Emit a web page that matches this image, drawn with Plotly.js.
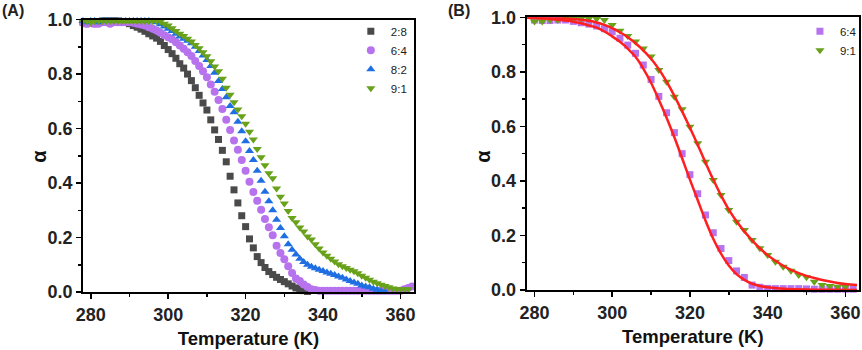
<!DOCTYPE html>
<html>
<head>
<meta charset="utf-8">
<script src="https://cdn.plot.ly/plotly-3.0.1.min.js"></script>
<style>
  body { margin: 0; background: #fff; }
  #plt { width: 862px; height: 350px; }
</style>
</head>
<body>
<div id="plt"></div>
<script>
// Panel (A): conversion alpha vs temperature, 1 K steps
var tA = [278, 279, 280, 281, 282, 283, 284, 285, 286, 287, 288, 289, 290, 291, 292, 293, 294, 295, 296, 297,
    298, 299, 300, 301, 302, 303, 304, 305, 306, 307, 308, 309, 310, 311, 312, 313, 314, 315, 316, 317,
    318, 319, 320, 321, 322, 323, 324, 325, 326, 327, 328, 329, 330, 331, 332, 333, 334, 335, 336, 337,
    338, 339, 340, 341, 342, 343, 344, 345, 346, 347, 348, 349, 350, 351, 352, 353, 354, 355, 356, 357,
    358, 359, 360, 361, 362, 363];

var a28 = [0.99, 0.985, 0.99, 0.985, 0.99, 0.995, 0.995, 0.995, 0.995, 0.995, 0.99, 0.99, 0.985, 0.978, 0.972, 0.965, 0.957, 0.948, 0.94, 0.932,
    0.92, 0.905, 0.89, 0.875, 0.858, 0.838, 0.822, 0.80, 0.776, 0.75, 0.722, 0.694, 0.668, 0.632, 0.595, 0.56, 0.52, 0.478, 0.425, 0.375,
    0.327, 0.28, 0.24, 0.195, 0.162, 0.13, 0.108, 0.09, 0.075, 0.064, 0.054, 0.046, 0.038, 0.03, 0.022, 0.015, 0.01, 0.005, 0.002];

var a64 = [0.99, 0.985, 0.99, 0.985, 0.985, 0.99, 0.99, 0.985, 0.99, 0.99, 0.99, 0.99, 0.99, 0.988, 0.985, 0.982, 0.978, 0.972, 0.966, 0.96,
    0.952, 0.943, 0.935, 0.928, 0.917, 0.905, 0.893, 0.88, 0.866, 0.848, 0.83, 0.81, 0.788, 0.762, 0.735, 0.705, 0.672, 0.632, 0.595, 0.556,
    0.522, 0.485, 0.445, 0.405, 0.367, 0.335, 0.302, 0.268, 0.238, 0.208, 0.17, 0.143, 0.12, 0.095, 0.07, 0.05, 0.04, 0.028, 0.018, 0.01,
    0.007, 0.005, 0.005, 0.005, 0.005, 0.005, 0.005, 0.005, 0.005, 0.005, 0.005, 0.005, 0.005, 0.005, 0.005, 0.005, 0.005, 0.005, 0.005, 0.005,
    0.005, 0.005, 0.005, 0.01, 0.015, 0.02];

var a82 = [0.995, 0.99, 0.995, 0.995, 0.99, 0.995, 0.995, 0.995, 0.995, 0.995, 0.995, 0.995, 0.995, 0.995, 0.995, 0.995, 0.995, 0.995, 0.993, 0.99,
    0.983, 0.975, 0.966, 0.958, 0.948, 0.938, 0.93, 0.922, 0.913, 0.9, 0.885, 0.868, 0.852, 0.83, 0.805, 0.775, 0.745, 0.715, 0.683, 0.66,
    0.625, 0.59, 0.553, 0.518, 0.485, 0.445, 0.408, 0.368, 0.333, 0.3, 0.265, 0.235, 0.205, 0.175, 0.155, 0.138, 0.122, 0.11, 0.1, 0.093,
    0.087, 0.082, 0.077, 0.072, 0.067, 0.062, 0.057, 0.052, 0.046, 0.04, 0.035, 0.03, 0.024, 0.02, 0.017, 0.012, 0.008, 0.004, 0.002];

var a91 = [0.995, 0.995, 0.99, 0.995, 0.995, 0.995, 0.995, 0.995, 0.995, 0.995, 0.995, 0.995, 0.995, 0.995, 0.995, 0.995, 0.995, 0.995, 0.995, 0.995,
    0.993, 0.985, 0.978, 0.968, 0.958, 0.948, 0.94, 0.93, 0.92, 0.907, 0.895, 0.88, 0.865, 0.847, 0.828, 0.81, 0.783, 0.75, 0.724, 0.697,
    0.67, 0.645, 0.618, 0.588, 0.56, 0.525, 0.495, 0.465, 0.436, 0.418, 0.38, 0.35, 0.325, 0.297, 0.272, 0.256, 0.237, 0.222, 0.204, 0.193,
    0.175, 0.16, 0.145, 0.133, 0.122, 0.112, 0.102, 0.095, 0.088, 0.082, 0.076, 0.069, 0.06, 0.052, 0.045, 0.038, 0.032, 0.027, 0.022, 0.017,
    0.013, 0.01, 0.01, 0.01, 0.01];

// Panel (B): 2 K steps, data and fitted curves
var tB = [280, 282, 284, 286, 288, 290, 292, 294, 296, 298, 300, 302, 304, 306, 308, 310, 312, 314, 316, 318,
    320, 322, 324, 326, 328, 330, 332, 334, 336, 338, 340, 342, 344, 346, 348, 350, 352, 354, 356, 358, 360, 362];

var b64 = [0.99, 0.988, 0.988, 0.99, 0.99, 0.985, 0.98, 0.975, 0.968, 0.958, 0.947, 0.923, 0.898, 0.868, 0.825, 0.772, 0.71, 0.65, 0.577, 0.5,
    0.423, 0.353, 0.275, 0.21, 0.152, 0.108, 0.07, 0.046, 0.018, 0.01, 0.006, 0.005, 0.005, 0.005, 0.005, 0.004, 0.003, 0.003, 0.003, 0.003, 0.003, 0.003];

var b91 = [0.985, 0.985, 0.99, 0.99, 0.995, 0.995, 0.995, 0.995, 0.995, 0.99, 0.972, 0.951, 0.931, 0.911, 0.886, 0.856, 0.807, 0.764, 0.709, 0.663,
    0.599, 0.538, 0.47, 0.403, 0.348, 0.293, 0.25, 0.22, 0.183, 0.153, 0.128, 0.104, 0.085, 0.071, 0.055, 0.047, 0.03, 0.018, 0.015, 0.012, 0.012];

var tFit = [278, 280, 284, 288, 290, 292, 294, 296, 298, 300, 302, 304, 306, 308, 310, 312, 314, 316, 318, 320,
    322, 324, 326, 328, 330, 332, 334, 336, 338, 340, 344, 350, 356, 363];

var fit64 = [0.998, 0.997, 0.994, 0.988, 0.984, 0.978, 0.97, 0.962, 0.948, 0.93, 0.91, 0.885, 0.855, 0.812, 0.76, 0.698, 0.632, 0.56, 0.483, 0.405,
    0.33, 0.255, 0.188, 0.133, 0.09, 0.058, 0.037, 0.023, 0.015, 0.01, 0.005, 0.002, 0.001, 0.0];

var tFit2 = [278, 280, 286, 290, 292, 294, 296, 298, 300, 302, 304, 306, 308, 310, 312, 314, 316, 318, 320, 322,
    324, 326, 328, 330, 332, 334, 336, 338, 340, 342, 344, 346, 348, 350, 352, 354, 356, 358, 360, 363];

var fit91 = [0.999, 0.999, 0.997, 0.994, 0.991, 0.987, 0.981, 0.972, 0.96, 0.945, 0.927, 0.905, 0.879, 0.848, 0.81, 0.764, 0.712, 0.655, 0.595, 0.533,
    0.468, 0.405, 0.347, 0.295, 0.252, 0.215, 0.182, 0.153, 0.128, 0.107, 0.089, 0.074, 0.062, 0.052, 0.044, 0.037, 0.031, 0.026, 0.022, 0.018];

var cGray = '#4a4a4a', cPurple = '#b772ee', cBlue = '#1f6fe3', cGreen = '#68a11a', cRed = '#ff1f1f';

function pts(x, y, name, color, symbol, size, xa, ya, leg) {
    return {
        x: x.slice(0, y.length), y: y, name: name, type: 'scatter', mode: 'markers',
        marker: {color: color, symbol: symbol, size: size},
        xaxis: xa, yaxis: ya, legend: leg, cliponaxis: false
    };
}

var data = [
    pts(tA, a28, '2:8', cGray, 'square', 7, 'x', 'y', 'legend'),
    pts(tA, a64, '6:4', cPurple, 'circle', 8, 'x', 'y', 'legend'),
    pts(tA, a82, '8:2', cBlue, 'triangle-up', 8, 'x', 'y', 'legend'),
    pts(tA, a91, '9:1', cGreen, 'triangle-down', 8, 'x', 'y', 'legend'),
    pts(tB, b64, '6:4', cPurple, 'square', 7, 'x2', 'y2', 'legend2'),
    pts(tB, b91, '9:1', cGreen, 'triangle-down', 8, 'x2', 'y2', 'legend2'),
    {x: tFit, y: fit64, type: 'scatter', mode: 'lines', line: {color: cRed, width: 2.5, shape: 'spline'},
        xaxis: 'x2', yaxis: 'y2', showlegend: false},
    {x: tFit2, y: fit91, type: 'scatter', mode: 'lines', line: {color: cRed, width: 2.5, shape: 'spline'},
        xaxis: 'x2', yaxis: 'y2', showlegend: false}
];

var tickFont = {family: 'Arial', size: 18, color: '#222', weight: 'bold'};
var titleFont = {family: 'Arial', size: 18.5, color: '#111', weight: 'bold'};

function xAxis(domain, anchor) {
    return {
        domain: domain, anchor: anchor, range: [278, 363.5], dtick: 20, tick0: 280,
        showline: true, linewidth: 2, linecolor: '#000', mirror: true, showgrid: false, zeroline: false,
        ticks: 'outside', ticklen: 5, tickwidth: 1.5, tickcolor: '#000', tickfont: tickFont,
        minor: {dtick: 10, ticks: 'outside', ticklen: 3, tickcolor: '#000'},
        title: {text: 'Temperature (K)', font: titleFont, standoff: 8}
    };
}

function yAxis(domain, anchor) {
    return {
        domain: domain, anchor: anchor, range: [0, 1], dtick: 0.2, tickformat: '.1f',
        showline: true, linewidth: 2, linecolor: '#000', mirror: true, showgrid: false, zeroline: false,
        ticks: 'outside', ticklen: 5, tickwidth: 1.5, tickcolor: '#000', tickfont: tickFont,
        minor: {dtick: 0.1, ticks: 'outside', ticklen: 3, tickcolor: '#000'}
    };
}

var legFont = {family: 'Arial', size: 11.5, color: '#222'};
var labFont = {family: 'Arial', size: 16, color: '#222', weight: 'bold'};
var alphaFont = {family: 'Arial', size: 20, color: '#111', weight: 'bold'};

var layout = {
    width: 862, height: 350,
    margin: {l: 0, r: 0, t: 0, b: 0},
    paper_bgcolor: '#fff', plot_bgcolor: '#fff',
    xaxis: xAxis([0.0963, 0.4803], 'y'),
    yaxis: yAxis([0.1657, 0.944], 'x'),
    xaxis2: xAxis([0.611, 0.9965], 'y2'),
    yaxis2: yAxis([0.1714, 0.9506], 'x2'),
    legend: {x: 0.407, y: 0.952, xanchor: 'left', yanchor: 'top', font: legFont, bgcolor: 'rgba(0,0,0,0)', itemwidth: 30},
    legend2: {x: 0.928, y: 0.952, xanchor: 'left', yanchor: 'top', font: legFont, bgcolor: 'rgba(0,0,0,0)', itemwidth: 30},
    annotations: [
        {text: '(A)', x: 0, y: 1, xref: 'paper', yref: 'paper', xanchor: 'left', yanchor: 'top', showarrow: false, font: labFont},
        {text: '(B)', x: 0.517, y: 1, xref: 'paper', yref: 'paper', xanchor: 'left', yanchor: 'top', showarrow: false, font: labFont},
        {text: 'α', x: 0.0452, y: 0.555, xref: 'paper', yref: 'paper', xanchor: 'center', yanchor: 'middle',
            textangle: -90, showarrow: false, font: alphaFont},
        {text: 'α', x: 0.5603, y: 0.555, xref: 'paper', yref: 'paper', xanchor: 'center', yanchor: 'middle',
            textangle: -90, showarrow: false, font: alphaFont}
    ]
};

Plotly.newPlot('plt', data, layout, {displayModeBar: false, staticPlot: true});
</script>
</body>
</html>
